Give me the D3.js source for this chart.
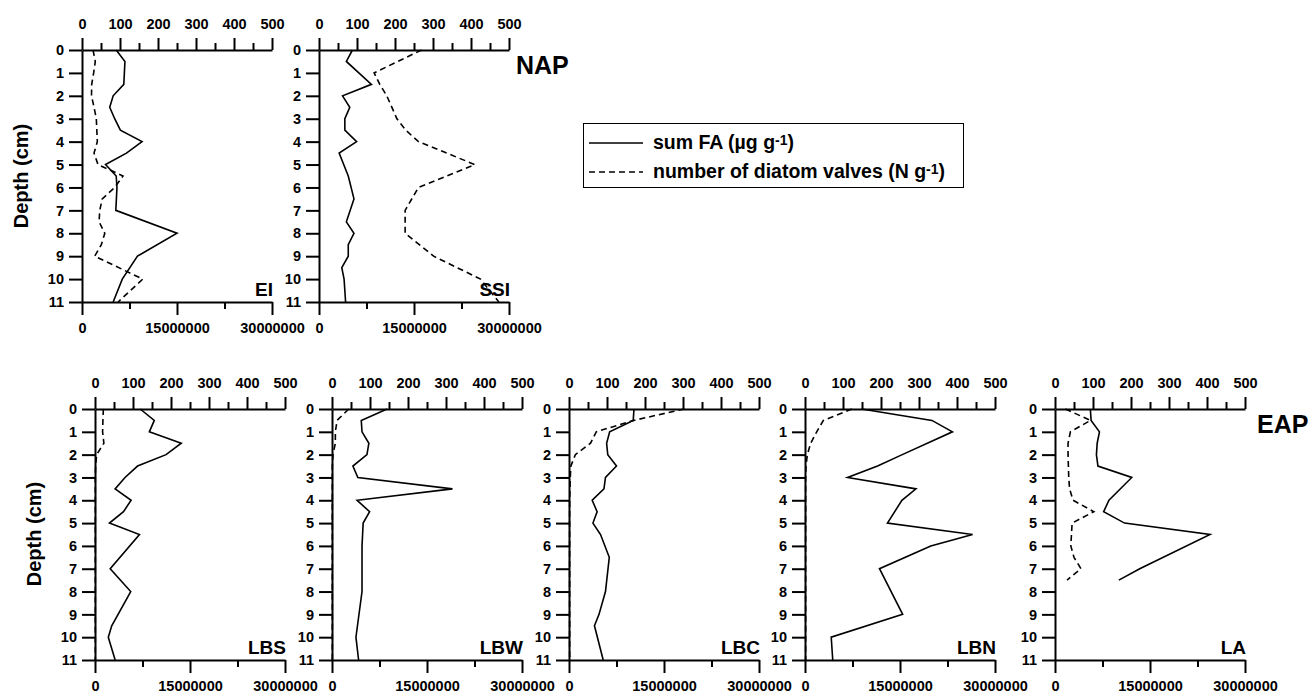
<!DOCTYPE html>
<html>
<head>
<meta charset="utf-8">
<script src="https://cdn.jsdelivr.net/npm/d3@7"></script>
<style>
  body { margin: 0; background: #fff; }
  svg text { font-family: "Liberation Sans", Arial, Helvetica, sans-serif; font-weight: bold; fill: #000; }
</style>
</head>
<body>
<svg id="chart" width="1311" height="695"></svg>
<script>
// ---- data: [depth (cm), value] ----
// sum FA (µg g-1)
const faEI  = [[0,90],[0.5,113],[1.5,110],[2,82],[2.5,73],[3,86],[3.5,101],[4,158],[4.5,117],[5,62],[5.5,90],[6,92],[7,89],[8,250],[9,146],[10,106],[11,82]];
const faSSI = [[0,88],[0.5,72],[1.5,138],[2,62],[2.5,81],[3,68],[3.5,68],[4,99],[4.5,53],[5.5,77],[6.5,92],[7.5,72],[8,92],[8.5,77],[9,77],[9.5,60],[10,66],[11,70]];
const faLBS = [[0,119],[0.5,156],[1,143],[1.5,227],[2,187],[2.5,112],[3,79],[3.5,53],[4,95],[4.5,75],[5,38],[5.5,117],[7,40],[8,94],[9.5,44],[10,35],[11,53]];
const faLBW = [[0,145],[0.5,77],[1,79],[1.5,97],[2,92],[2.5,55],[3,68],[3.5,317],[4,66],[4.5,99],[5,82],[6,79],[8,79],[10,63],[11,70]];
const faLBC = [[0,171],[0.5,169],[1,107],[1.5,99],[2,102],[2.5,125],[3,96],[3.5,92],[4,61],[4.5,74],[5,63],[5.5,83],[6.5,106],[8,96],[9,79],[9.5,67],[11,90]];
const faLBN = [[0,149],[0.5,334],[1,388],[2,256],[2.5,191],[3,112],[3.5,292],[4,255],[5,217],[5.5,441],[6,331],[7,196],[9,257],[10,69],[11,73]];
const faLA  = [[0,93],[0.5,95],[1,117],[1.5,111],[2,109],[2.5,113],[3,202],[4,142],[4.5,128],[5,183],[5.5,408],[7,223],[7.5,168]];

// number of diatom valves (N g-1)
const diaEI  = [[0,1740000],[0.5,2100000],[1,1840000],[1.5,1530000],[2,1500000],[2.5,1900000],[3,2260000],[4,2420000],[4.5,1900000],[5,2530000],[5.5,6470000],[6,5160000],[6.5,3200000],[7,2800000],[7.5,2700000],[8,3600000],[8.5,3050000],[9,2000000],[10,9600000],[11,5700000]];
const diaSSI = [[0,16200000],[1,8700000],[1.5,9600000],[2,10700000],[3,12300000],[3.5,13700000],[4,15700000],[5,24600000],[6,15700000],[7,13600000],[8,13600000],[9,18100000],[10,25500000],[11,28400000]];
const diaLBS = [[0,1320000],[0.5,1250000],[1,1200000],[1.5,1400000],[2,260000],[2.5,100000],[3,50000],[4,50000],[5,50000],[6,50000],[7,50000],[8,50000],[9,50000],[10,50000],[11,50000]];
const diaLBW = [[0,2640000],[0.5,800000],[1,530000],[1.5,530000],[2,160000],[2.5,50000],[3,50000],[4,50000],[5,50000],[6,50000],[7,50000],[8,50000],[9,50000],[10,50000],[11,50000]];
const diaLBC = [[0,18200000],[0.5,10200000],[1,4300000],[1.5,3400000],[2,1000000],[2.5,300000],[3,200000],[4,100000],[5,100000],[6,100000],[7,100000],[8,100000],[9,100000],[10,100000],[11,100000]];
const diaLBN = [[0,7400000],[0.5,2900000],[1,1850000],[1.5,900000],[2,370000],[2.5,160000],[3,100000],[4,100000],[5,100000],[6,100000],[7,100000],[8,100000],[9,100000],[10,100000],[11,100000]];
const diaLA  = [[0,1640000],[0.5,5600000],[1,2430000],[1.5,2060000],[2,2060000],[3,2170000],[3.5,2300000],[4,2850000],[4.5,6130000],[5,2700000],[6,2500000],[6.5,3000000],[7,4100000],[7.5,1900000]];

// ---- tick labels ----
const faTicks      = [0, 100, 200, 300, 400, 500];
const faMinor      = [50, 150, 250, 350, 450];
const diatomTicks  = [0, 15000000, 30000000];
const diatomMinor  = [7500000, 22500000];
const depthTicks   = [0, 1, 2, 3, 4, 5, 6, 7, 8, 9, 10, 11];

const siteNames = ["EI", "SSI", "LBS", "LBW", "LBC", "LBN", "LA"];
const faSeries  = [faEI, faSSI, faLBS, faLBW, faLBC, faLBN, faLA];
const diaSeries = [diaEI, diaSSI, diaLBS, diaLBW, diaLBC, diaLBN, diaLA];

// ---- layout ----
const PW = 190;
const TICK_FONT = 14.5;
const rows = { top: { y0: 50, y1: 302 }, bottom: { y0: 409, y1: 660 } };
const panelPos = [
  { x: 82,   row: "top" },
  { x: 319,  row: "top" },
  { x: 95,   row: "bottom" },
  { x: 332,  row: "bottom" },
  { x: 569,  row: "bottom" },
  { x: 805,  row: "bottom" },
  { x: 1055, row: "bottom" }
];

const svg = d3.select("#chart");

const xFA  = d3.scaleLinear().domain([0, 500]).range([0, PW]);
const xDia = d3.scaleLinear().domain([0, 30000000]).range([0, PW]);

function styleAxis(g) {
  g.attr("font-family", null).attr("font-size", null);
  g.selectAll("path.domain").attr("stroke", "#000").attr("stroke-width", 2);
  g.selectAll(".tick line").attr("stroke", "#000").attr("stroke-width", 2);
  g.selectAll(".tick text").style("font-size", TICK_FONT + "px");
}

siteNames.forEach((name, i) => {
  const pos = panelPos[i];
  const r = rows[pos.row];
  const y = d3.scaleLinear().domain([0, 11]).range([0, r.y1 - r.y0]);
  const g = svg.append("g").attr("transform", `translate(${pos.x},${r.y0})`);

  // depth axis
  g.append("g")
    .call(d3.axisLeft(y).tickValues(depthTicks).tickSize(13).tickPadding(5).tickSizeOuter(0))
    .call(styleAxis);

  // FA axis along the top
  g.append("g")
    .call(d3.axisTop(xFA).tickValues(faTicks).tickSize(12).tickPadding(9).tickSizeOuter(0))
    .call(styleAxis);
  g.append("g")
    .call(d3.axisTop(xFA).tickValues(faMinor).tickSize(7).tickFormat(""))
    .call(s => { styleAxis(s); s.select("path.domain").remove(); });

  // diatom axis along the bottom
  const gb = g.append("g").attr("transform", `translate(0,${y(11)})`);
  gb.append("g")
    .call(d3.axisBottom(xDia).tickValues(diatomTicks).tickSize(13).tickPadding(8)
      .tickSizeOuter(0).tickFormat(d3.format("d")))
    .call(styleAxis);
  gb.append("g")
    .call(d3.axisBottom(xDia).tickValues(diatomMinor).tickSize(7).tickFormat(""))
    .call(s => { styleAxis(s); s.select("path.domain").remove(); });

  // profiles
  const lineFA = d3.line().x(d => xFA(d[1])).y(d => y(d[0]));
  const lineDia = d3.line().x(d => xDia(d[1])).y(d => y(d[0]));

  g.append("path")
    .datum(diaSeries[i])
    .attr("d", lineDia)
    .attr("fill", "none")
    .attr("stroke", "#000")
    .attr("stroke-width", 1.6)
    .attr("stroke-dasharray", "6,4");

  g.append("path")
    .datum(faSeries[i])
    .attr("d", lineFA)
    .attr("fill", "none")
    .attr("stroke", "#000")
    .attr("stroke-width", 1.6);

  // site label
  g.append("text")
    .attr("x", PW + 1)
    .attr("y", y(11) - 6)
    .attr("text-anchor", "end")
    .style("font-size", "19px")
    .text(name);
});

// depth axis titles
[{ x: 28, y: 176 }, { x: 41, y: 534 }].forEach(p => {
  svg.append("text")
    .attr("transform", `translate(${p.x},${p.y}) rotate(-90)`)
    .attr("text-anchor", "middle")
    .style("font-size", "20px")
    .text("Depth (cm)");
});

// region labels
svg.append("text").attr("x", 516).attr("y", 74).style("font-size", "25px").text("NAP");
svg.append("text").attr("x", 1257).attr("y", 433).style("font-size", "25px").text("EAP");

// legend
const lg = svg.append("g");
lg.append("rect")
  .attr("x", 583.5).attr("y", 123.5).attr("width", 380).attr("height", 64)
  .attr("fill", "none").attr("stroke", "#000").attr("stroke-width", 1);

const legendItems = [
  { label: "sum FA (µg g", unit: ")", dash: null, y: 143 },
  { label: "number of diatom valves (N g", unit: ")", dash: "6,4", y: 172 }
];
legendItems.forEach(it => {
  lg.append("line")
    .attr("x1", 589).attr("x2", 643).attr("y1", it.y).attr("y2", it.y)
    .attr("stroke", "#000").attr("stroke-width", 1.6)
    .attr("stroke-dasharray", it.dash);
  const t = lg.append("text")
    .attr("x", 653).attr("y", it.y + 6)
    .style("font-size", "19.5px");
  t.append("tspan").text(it.label);
  t.append("tspan").attr("dy", -4).style("font-size", "14px").text("-1");
  t.append("tspan").attr("dy", 4).text(it.unit);
});
</script>
</body>
</html>
